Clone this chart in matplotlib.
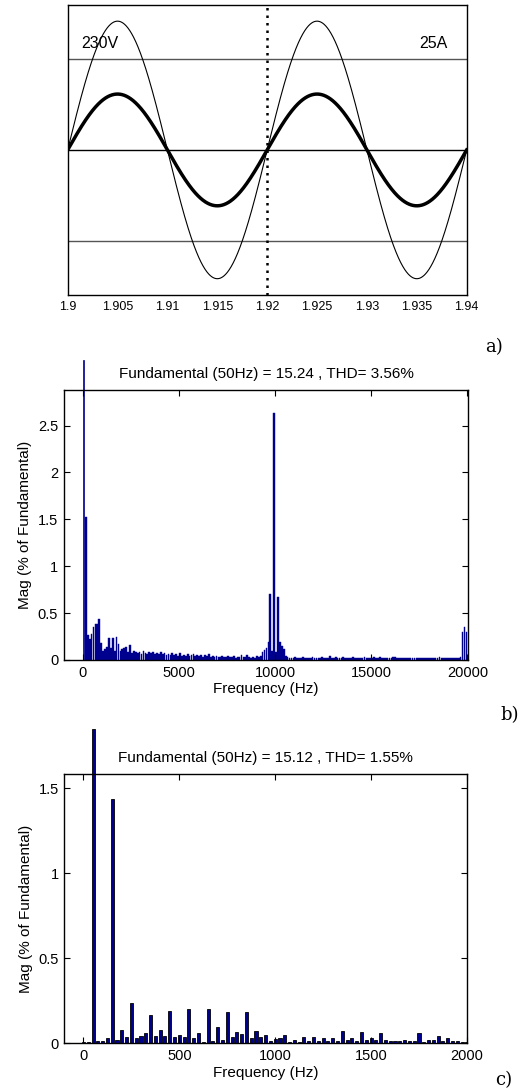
import numpy as np
import matplotlib.pyplot as plt

plt.rcParams['font.family'] = ['Liberation Sans', 'DejaVu Sans']

# ---- a) voltage / current waveforms
t_start, t_end = 1.90, 1.94
f_grid = 50.0
v_peak = 325.0        # 230 V rms
i_peak = 141.0        # 25 A trace (scaled to screen)
ref_lines = [230.0, 0.0, -230.0]
t_marker = 1.92
a_ticks = [1.9, 1.905, 1.91, 1.915, 1.92, 1.925, 1.93, 1.935, 1.94]
a_ticklabels = ['1.9', '1.905', '1.91', '1.915', '1.92', '1.925', '1.93', '1.935', '1.94']

# ---- b) spectrum, switching harmonics up to 20 kHz (100 Hz bins from 150 Hz)
fund_b = 15.24
thd_b = 3.56
fund_b_top = 3.2      # visible top of the (clipped) fundamental bar
mag_b_low = [1.52, 0.27, 0.22, 0.28, 0.35, 0.38, 0.38, 0.44, 0.18, 0.10,
             0.12, 0.14, 0.23, 0.13, 0.23, 0.10, 0.24, 0.17, 0.10, 0.12,
             0.13, 0.14, 0.09, 0.16, 0.07, 0.10, 0.09, 0.07, 0.09, 0.06,
             0.10, 0.07, 0.06, 0.09, 0.07, 0.08, 0.06, 0.07, 0.06, 0.08,
             0.06, 0.07, 0.05, 0.06, 0.05, 0.07, 0.05, 0.06, 0.04, 0.07,
             0.04, 0.05, 0.04, 0.06, 0.04, 0.05, 0.06, 0.04, 0.05, 0.04,
             0.05, 0.03, 0.05, 0.04, 0.06, 0.03, 0.04, 0.03, 0.04, 0.03,
             0.03, 0.04, 0.03, 0.03, 0.04, 0.03, 0.03, 0.04, 0.02, 0.03,
             0.03, 0.05, 0.03, 0.03, 0.05, 0.03, 0.02, 0.03, 0.02, 0.04,
             0.03, 0.04, 0.09, 0.11, 0.13, 0.19, 0.70, 0.10, 2.63, 0.08,
             0.67, 0.19, 0.15, 0.12, 0.04, 0.03, 0.02]
mag_b_high = [0.02, 0.02, 0.03, 0.02, 0.02, 0.02, 0.03, 0.02, 0.02, 0.02,
              0.02, 0.03, 0.02, 0.02, 0.02, 0.02, 0.03, 0.02, 0.02, 0.02,
              0.04, 0.02, 0.02, 0.03, 0.02, 0.02, 0.02, 0.03, 0.02, 0.02,
              0.02, 0.02, 0.03, 0.02, 0.02, 0.02, 0.02, 0.02, 0.03, 0.02,
              0.02, 0.02, 0.02, 0.03, 0.02, 0.02, 0.03, 0.02, 0.02, 0.02,
              0.02, 0.02, 0.02, 0.03, 0.03, 0.02, 0.02, 0.02, 0.02, 0.02,
              0.02, 0.02, 0.02, 0.02, 0.02, 0.02, 0.02, 0.02, 0.02, 0.02,
              0.02, 0.02, 0.02, 0.02, 0.02, 0.02, 0.02, 0.03, 0.02, 0.02,
              0.02, 0.02, 0.02, 0.02, 0.02, 0.02, 0.02, 0.02, 0.03, 0.30,
              0.35, 0.30]
mag_b = mag_b_low + mag_b_high
freq_b = [150 + 100 * k for k in range(len(mag_b))]

# ---- c) low order harmonics, 25 Hz bins 0..2000 Hz
fund_c = 15.12
thd_c = 1.55
fund_c_top = 1.85
mag_c = [0.005, 0.005, 0.0, 0.015, 0.015, 0.03, 1.44, 0.02, 0.08, 0.04,
         0.24, 0.03, 0.045, 0.06, 0.165, 0.045, 0.08, 0.045, 0.19, 0.035,
         0.05, 0.04, 0.205, 0.03, 0.06, 0.005, 0.205, 0.015, 0.095, 0.02,
         0.185, 0.035, 0.065, 0.055, 0.185, 0.03, 0.075, 0.04, 0.05, 0.015,
         0.025, 0.03, 0.05, 0.005, 0.02, 0.005, 0.035, 0.015, 0.035, 0.015,
         0.03, 0.015, 0.03, 0.015, 0.07, 0.02, 0.03, 0.015, 0.065, 0.02,
         0.03, 0.02, 0.06, 0.02, 0.015, 0.015, 0.015, 0.02, 0.015, 0.015,
         0.06, 0.005, 0.02, 0.02, 0.045, 0.015, 0.03, 0.015, 0.015, 0.005,
         0.005]
freq_c = [25 * k for k in range(len(mag_c))]

navy = (0.0, 0.0, 0.56)

fig = plt.figure(figsize=(5.23, 10.9), dpi=100)

# ------------------------------------------------------------------ a)
ax1 = fig.add_axes([0.1294, 0.7294, 0.7629, 0.2661])
t = np.linspace(t_start, t_end, 2000)
v = v_peak * np.sin(2 * np.pi * f_grid * (t - t_start))
i = i_peak * np.sin(2 * np.pi * f_grid * (t - t_start))
for y in ref_lines:
    ax1.axhline(y, color='black' if y == 0 else '#555555', lw=1.0)
ax1.plot(t, v, color='black', lw=0.8)
ax1.plot(t, i, color='black', lw=2.5)
ax1.axvline(t_marker, color='black', lw=1.8, ls=(0, (1, 2)))
ax1.set_xlim(t_start, t_end)
ax1.set_ylim(-366, 366)
ax1.set_yticks([])
ax1.set_xticks(a_ticks)
ax1.set_xticklabels(a_ticklabels)
ax1.tick_params(axis='x', length=0, pad=4, labelsize=9)
ax1.text(0.035, 0.85, '230V', transform=ax1.transAxes, fontsize=11.5)
ax1.text(0.88, 0.85, '25A', transform=ax1.transAxes, fontsize=11.5)
for s in ax1.spines.values():
    s.set_linewidth(1.0)


def style_spectrum(ax):
    ax.tick_params(direction='in', length=4, top=True, right=True,
                   labelsize=10.5, pad=4)
    for s in ax.spines.values():
        s.set_linewidth(1.0)
    ax.set_xlabel('Frequency (Hz)', fontsize=11, labelpad=2)
    ax.set_ylabel('Mag (% of Fundamental)', fontsize=11, labelpad=4)


# ------------------------------------------------------------------ b)
ax2 = fig.add_axes([0.1218, 0.3945, 0.7736, 0.2477])
ax2.bar(freq_b, mag_b, width=90, color=navy, edgecolor=navy, linewidth=0.3)
ax2.bar([50], [fund_b_top], width=60, color=navy, edgecolor=navy,
        linewidth=0.5, clip_on=False)
ax2.set_xlim(-1000, 20050)
ax2.set_ylim(0, 2.88)
ax2.set_xticks([0, 5000, 10000, 15000, 20000])
ax2.set_yticks([0, 0.5, 1, 1.5, 2, 2.5])
ax2.set_yticklabels(['0', '0.5', '1', '1.5', '2', '2.5'])
ax2.set_title('Fundamental (50Hz) = %.2f , THD= %.2f%%' % (fund_b, thd_b),
              fontsize=11, pad=9)
style_spectrum(ax2)

# ------------------------------------------------------------------ c)
ax3 = fig.add_axes([0.1229, 0.0428, 0.7706, 0.2471])
ax3.bar(freq_c, mag_c, width=16, color=navy, edgecolor='black', linewidth=0.6)
ax3.bar([50], [fund_c_top], width=16, color=navy, edgecolor='black',
        linewidth=0.6, clip_on=False)
ax3.set_xlim(-100, 2002)
ax3.set_ylim(0, 1.585)
ax3.set_xticks([0, 500, 1000, 1500, 2000])
ax3.set_yticks([0, 0.5, 1, 1.5])
ax3.set_yticklabels(['0', '0.5', '1', '1.5'])
ax3.set_title('Fundamental (50Hz) = %.2f , THD= %.2f%%' % (fund_c, thd_c),
              fontsize=11, pad=9)
style_spectrum(ax3)

# panel letters
for label, x, y in [('a)', 485, 347), ('b)', 500, 715), ('c)', 495, 1080)]:
    fig.text(x / 523, 1 - y / 1090, label, fontsize=13, family='DejaVu Serif',
             va='center', ha='left')

fig.savefig('out.png', dpi=100)
